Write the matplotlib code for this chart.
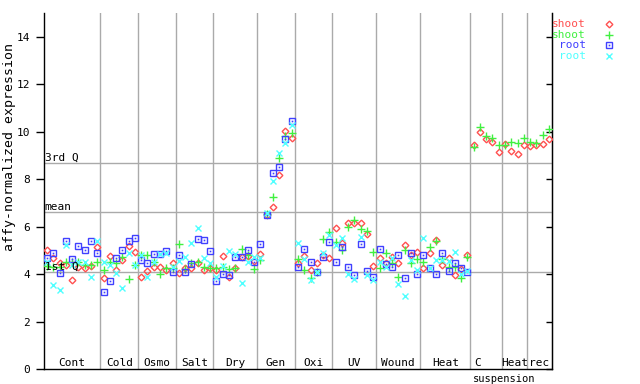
import matplotlib
matplotlib.use("Agg")
import matplotlib.pyplot as plt
from matplotlib.lines import Line2D
import numpy as np

plt.rcParams['font.family'] = ['DejaVu Sans Mono']

# groups along the x axis and how many samples each has
groups = ["Cont", "Cold", "Osmo", "Salt", "Dry", "Gen", "Oxi", "UV", "Wound",
          "Heat", "C suspension", "Heat", "rec"]
counts = [9, 6, 6, 6, 7, 6, 6, 7, 7, 8, 5, 4, 4]

nan = np.nan
shoot1 = [5.02, 4.67, 4.46, 4.39, 3.75, 4.30, 4.25, 4.34, 5.16,
          3.82, 4.75, 4.18, 4.60, 5.19, 4.92,
          3.87, 4.13, 4.32, 4.29, 4.18, 4.46,
          4.03, 4.27, 4.27, 4.46, 4.18, 4.25,
          4.18, 4.77, 3.87, 4.27, 4.71, 4.78, 4.55,
          4.85, 6.50, 6.85, 8.17, 10.05, 9.73,
          4.46, 4.77, 4.18, 4.46, 4.80, 4.67,
          5.93, 5.30, 6.17, 6.17, 6.14, 5.69, 4.34,
          4.67, 4.46, 4.71, 4.46, 5.23, 4.81, 4.95,
          4.25, 4.88, 5.44, 4.39, 4.67, 3.96, 4.20, 4.81,
          9.45, 10.01, 9.69, 9.59, 9.14,
          9.48, 9.21, 9.05, 9.45,
          9.41, 9.45, 9.49, 9.69]
shoot2 = [4.35, 4.30, 4.32, 4.53, 4.53, 4.50, 4.39, 4.39, 4.53,
          4.18, 4.53, 4.46, 4.71, 3.78, 4.39,
          4.81, 4.81, 4.50, 4.01, 4.25, 4.25,
          5.27, 4.20, 4.45, 4.50, 4.29, 4.25,
          4.25, 4.30, 4.22, 4.27, 5.05, 4.81, 4.22,
          4.60, 6.55, 7.27, 8.89, 9.83, 9.94,
          4.63, 4.18, 3.82, 4.10, 5.47, 5.79,
          5.37, 5.02, 5.97, 6.28, 5.92, 5.83, 4.95,
          4.25, 4.88, 4.46, 3.89, 5.02, 4.48, 4.63,
          4.50, 5.13, 5.41, 4.63, 4.29, 4.32, 3.82, 4.74,
          9.35, 10.22, 9.84, 9.73, 9.45,
          9.45, 9.59, 9.52, 9.73,
          9.59, 9.52, 9.87, 10.11]
root1 = [4.67, 4.88, 4.03, 5.40, 4.63, 5.19, 5.02, 5.40, 4.88,
         3.26, 3.71, 4.67, 5.02, 5.40, 5.51,
         4.60, 4.46, 4.84, 4.84, 4.98, 4.08,
         4.81, 4.08, 4.41, 5.47, 5.43, 4.98,
         3.71, 4.00, 3.96, 4.71, 4.71, 5.02, 4.50,
         5.26, 6.48, 8.27, 8.50, 9.69, 10.47,
         4.29, 5.05, 4.50, 4.08, 4.74, 5.34,
         4.50, 5.13, 4.32, 3.96, 5.26, 4.15, 3.89,
         5.05, 4.43, 4.29, 4.81, 3.82, 4.91, 4.01,
         4.81, 4.25, 4.01, 4.88, 4.15, 4.46, 4.25, 4.10] + [nan] * 13
root2 = [4.53, 3.54, 3.33, 5.23, 4.40, 4.50, 4.53, 3.89, 5.40,
         4.53, 4.39, 4.06, 3.40, 4.91, 4.39,
         4.81, 3.87, 4.53, 4.84, 4.88, 4.30,
         4.55, 4.74, 5.30, 5.93, 4.70, 4.46,
         3.89, 4.36, 4.98, 4.84, 3.61, 4.50, 4.74,
         4.70, 6.59, 7.93, 9.10, 9.55, 10.29,
         5.30, 4.63, 3.75, 4.08, 4.88, 5.65,
         5.23, 5.51, 3.99, 3.78, 5.55, 3.96, 3.75,
         4.53, 4.32, 4.67, 3.58, 3.08, 4.60, 4.18,
         5.51, 4.25, 4.60, 4.60, 4.55, 4.95, 4.00, 4.13] + [nan] * 13

q1, q_mean, q3 = 4.09, 6.62, 8.69

series = [("shoot", shoot1, "#ff5050", "D", 3.4),
          ("shoot", shoot2, "#40f040", "+", 5.5),
          ("root", root1, "#4040ff", "s", 4.4),
          ("root", root2, "#50ffff", "x", 4.4)]

n = sum(counts)
x = np.arange(n) + 0.5
edges = np.cumsum([0] + counts)

fig = plt.figure(figsize=(6.4, 3.84), dpi=100)
ax = fig.add_axes([44/640, 15/384, 508/640, 355.7/384])
ax.set_xlim(0, n)
ax.set_ylim(0, 15)

grey = "#aaaaaa"
for e in edges[1:-1]:
    ax.axvline(e, color=grey, lw=1, zorder=1)
for v, lab in [(q3, "3rd Q"), (q_mean, "mean"), (q1, "1st Q")]:
    ax.axhline(v, color=grey, lw=1, zorder=1)
    ax.text(0.1, v + 0.02, lab, fontsize=8, ha="left", va="bottom", zorder=5)

def draw(axis, xs, ys, col, mk, ms, **kw):
    if mk in "Ds":
        axis.plot(xs, ys, ls="none", marker=mk, ms=ms, mfc="none", mec=col, mew=1, zorder=3, **kw)
        if mk == "s":
            # little dot in the middle of the squares
            axis.plot(xs, ys, ls="none", marker="s", ms=1.2, mfc=col, mec=col, mew=0, zorder=3, **kw)
    else:
        axis.plot(xs, ys, ls="none", marker=mk, ms=ms, color=col, mew=1, zorder=3, **kw)

for name, vals, col, mk, ms in series:
    draw(ax, x, vals, col, mk, ms)

for i, g in enumerate(groups):
    c = (edges[i] + edges[i + 1]) / 2
    if g == "C suspension":
        ax.text(c - 1.3, 0.25, "C", fontsize=8, ha="center", va="center")
        ax.text(c + 2.8, -0.42, "suspension", fontsize=7.5, ha="center", va="center", clip_on=False)
    else:
        ax.text(c, 0.25, g, fontsize=8, ha="center", va="center")

ax.spines["top"].set_visible(False)
for s in ["left", "right", "bottom"]:
    ax.spines[s].set_linewidth(1)
ax.set_xticks([])
ax.set_yticks(range(0, 16, 2))
ax.tick_params(axis="y", direction="out", length=6, width=1, labelsize=8, pad=4)
sec = ax.secondary_yaxis("right")
sec.set_yticks(range(0, 16, 2))
sec.tick_params(direction="in", length=4, width=1, labelright=False)

fig.text(10/640, 1 - 147/384, "affy-normalized expression", rotation=90,
         fontsize=9.5, ha="center", va="center")

# legend to the right of the plot
for k, (name, vals, col, mk, ms) in enumerate(series):
    yy = 1 - (24 + 10.7 * k) / 384
    fig.text(586/640, yy, name, color=col, fontsize=8, ha="right", va="center")
    if mk in "Ds":
        fig.add_artist(Line2D([609/640], [yy], marker=mk, ms=ms, mfc="none", mec=col, mew=1,
                              transform=fig.transFigure))
        if mk == "s":
            fig.add_artist(Line2D([609/640], [yy], marker="s", ms=1.2, mfc=col, mec=col, mew=0,
                                  transform=fig.transFigure))
    else:
        fig.add_artist(Line2D([609/640], [yy], marker=mk, ms=ms, color=col, mew=1,
                              transform=fig.transFigure))

fig.savefig("out.png", dpi=100)
